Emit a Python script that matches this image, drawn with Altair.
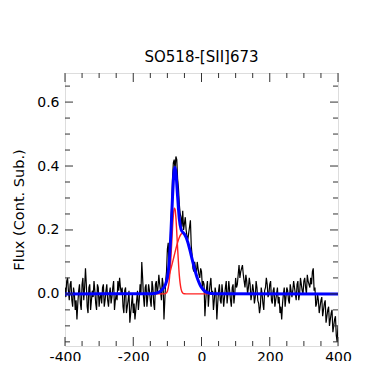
import altair as alt
import pandas as pd

# Observed spectrum (velocity km/s, continuum-subtracted flux), sampled every 2.5 km/s
vel = list(range(-400, 401, 5))
flux = [
    0.02, 0.04, 0.01, 0.03, -0.02, 0.02, -0.05, -0.08, 0.01, -0.03,   # -400..-355
    0.03, -0.02, 0.08, -0.04, 0.02, -0.05, 0.01, 0.04, -0.03, 0.03,   # -350..-305
    -0.04, 0.00, 0.02, -0.04, 0.01, -0.02, 0.00, -0.03, 0.02, -0.05,  # -300..-255
    0.00, 0.04, 0.05, 0.00, -0.04, 0.01, -0.06, -0.02, -0.09, -0.03,  # -250..-205
    -0.06, -0.08, -0.02, -0.05, 0.03, 0.10, -0.01, 0.02, -0.04, 0.03, # -200..-155
    -0.02, 0.04, -0.03, 0.03, 0.00, 0.06, 0.01, 0.05, -0.08, 0.04,    # -150..-105
    0.14, 0.08, 0.22, 0.36, 0.42, 0.43, 0.36, 0.28, 0.24, 0.26,       # -100..-55
    0.22, 0.20, 0.17, 0.21, 0.15, 0.08, 0.10, 0.06, 0.08, 0.05,       # -50..-5
    0.07, 0.04, -0.07, 0.02, -0.04, 0.03, 0.00, -0.05, 0.02, -0.08,   # 0..45
    0.01, -0.02, 0.03, -0.04, 0.02, -0.03, 0.04, -0.02, 0.02, -0.03,  # 50..95
    0.05, 0.03, 0.09, 0.07, 0.09, 0.04, 0.06, 0.00, 0.05, -0.02,      # 100..145
    0.03, -0.03, 0.04, -0.02, -0.06, 0.02, -0.03, 0.01, 0.05, -0.01,  # 150..195
    0.03, -0.02, 0.01, -0.04, 0.00, -0.03, -0.06, -0.08, 0.00, -0.04, # 200..245
    0.02, -0.02, 0.03, -0.01, 0.04, 0.00, 0.03, -0.02, 0.05, 0.01,    # 250..295
    0.04, 0.02, 0.06, 0.03, 0.05, 0.07, 0.01, -0.04, 0.00, -0.06,     # 300..345
    -0.02, -0.07, -0.03, -0.09, -0.05, -0.10, -0.06, -0.12, -0.08, -0.13, # 350..395
    -0.10,                                                            # 400
]
vel_mid = [v + 2.5 for v in vel[:-1]]
flux_mid = [
    -0.01, 0.05, -0.02, 0.04, -0.04, 0.00, -0.02, -0.03, 0.03, -0.05,   # -397.5..-352.5
    0.05, 0.02, 0.03, -0.06, 0.03, -0.02, -0.01, 0.01, -0.05, 0.02,     # -347.5..-302.5
    -0.01, -0.03, 0.03, -0.02, 0.03, -0.04, 0.02, -0.01, 0.04, -0.02,   # -297.5..-252.5
    -0.02, 0.01, 0.02, 0.02, -0.06, 0.02, -0.04, 0.01, -0.06, 0.00,     # -247.5..-202.5
    -0.03, -0.05, 0.01, -0.02, 0.00, 0.05, -0.04, 0.03, -0.01, 0.01,    # -197.5..-152.5
    -0.04, 0.02, -0.05, 0.04, 0.02, 0.03, -0.02, 0.03, -0.02, 0.07,     # -147.5..-102.5
    0.16, 0.12, 0.27, 0.41, 0.39, 0.42, 0.33, 0.25, 0.21, 0.20,         # -97.5..-52.5
    0.24, 0.18, 0.19, 0.23, 0.12, 0.07, 0.08, 0.10, 0.06, 0.08,         # -47.5..-2.5
    0.02, 0.03, -0.02, 0.04, 0.00, 0.05, 0.01, -0.02, 0.00, -0.03,      # 2.5..47.5
    0.03, -0.03, 0.00, -0.01, 0.04, 0.00, 0.01, -0.04, 0.03, 0.00,      # 52.5..97.5
    0.02, 0.06, 0.05, 0.08, 0.06, 0.02, 0.04, 0.02, 0.03, 0.00,         # 102.5..147.5
    0.01, -0.01, 0.02, -0.03, -0.04, 0.00, -0.05, 0.02, 0.03, 0.00,     # 152.5..197.5
    0.04, -0.03, 0.02, -0.02, 0.02, -0.01, -0.04, -0.03, 0.02, -0.01,   # 202.5..247.5
    0.01, -0.03, 0.01, 0.01, 0.02, -0.02, 0.04, 0.00, 0.03, 0.00,       # 252.5..297.5
    0.05, 0.00, 0.04, 0.02, 0.03, 0.08, 0.02, -0.03, -0.02, -0.04,      # 302.5..347.5
    -0.01, -0.05, -0.02, -0.07, -0.04, -0.08, -0.05, -0.10, -0.07, -0.15, # 352.5..397.5
]

# Fitted components
fit_v = [-400, -150, -140, -130, -120, -110, -105, -100, -95, -90, -85, -82.5, -80,
         -77.5, -75, -70, -65, -60, -55, -50, -45, -40, -35, -30, -25, -20, -15,
         -10, -5, 0, 10, 20, 30, 40, 400]
narrow = [0, 0, 0, 0, 0, 0.0001, 0.0014, 0.0086, 0.0365, 0.105, 0.204, 0.245, 0.268,
          0.265, 0.238, 0.143, 0.058, 0.016, 0.003, 0.0004, 0, 0, 0, 0, 0, 0, 0,
          0, 0, 0, 0, 0, 0, 0, 0]
broad = [0, 0.0002, 0.0009, 0.003, 0.0083, 0.0203, 0.0299, 0.0425, 0.0582, 0.0768,
         0.0977, 0.1086, 0.1197, 0.1307, 0.1413, 0.161, 0.1765, 0.1865, 0.19, 0.1865,
         0.1765, 0.161, 0.1413, 0.1197, 0.0977, 0.0768, 0.0582, 0.0425, 0.0299,
         0.0203, 0.0083, 0.003, 0.0009, 0.0002, 0]
total = [0, 0.0002, 0.0009, 0.003, 0.0083, 0.0204, 0.0313, 0.0511, 0.0947, 0.1818,
         0.3017, 0.3536, 0.3877, 0.3957, 0.3793, 0.304, 0.2345, 0.2025, 0.193, 0.1869,
         0.1765, 0.161, 0.1413, 0.1197, 0.0977, 0.0768, 0.0582, 0.0425, 0.0299,
         0.0203, 0.0083, 0.003, 0.0009, 0.0002, 0]

# Axis ticks
x_major = [-400, -200, 0, 200, 400]
x_minor = [-350, -300, -250, -150, -100, -50, 50, 100, 150, 250, 300, 350]
y_major = [0.0, 0.2, 0.4, 0.6]
y_minor = [-0.15, -0.1, -0.05, 0.05, 0.1, 0.15, 0.25, 0.3, 0.35, 0.45, 0.5, 0.55, 0.65]

W, H = 273, 273
FONT = "DejaVu Sans"
xs = alt.Scale(domain=[-400, 400], nice=False, zero=False)
ys = alt.Scale(domain=[-0.163, 0.691], nice=False, zero=False)

spec_df = pd.DataFrame({"v": vel + vel_mid, "f": flux + flux_mid}).sort_values("v")
fit_df = pd.DataFrame({"v": fit_v, "n": narrow, "b": broad, "t": total})

base_x = alt.X("v:Q", scale=xs,
               axis=alt.Axis(values=x_major, ticks=False, domain=False, grid=False,
                             labelExpr="toString(datum.value)", labelFontSize=14,
                             labelFont=FONT, labelColor="#000", labelPadding=4,
                             labelFlush=False, labelOverlap=False, title=None))
base_y = alt.Y("f:Q", scale=ys,
               axis=alt.Axis(values=y_major, ticks=False, domain=False, grid=False,
                             format=".1f", labelFontSize=14, labelFont=FONT,
                             labelColor="#000", labelPadding=6, labelFlush=False,
                             labelOverlap=False,
                             title="Flux (Cont. Sub.)", titleFont=FONT,
                             titleFontSize=14.5, titleFontWeight="normal",
                             titleColor="#000", titlePadding=10))

spectrum = alt.Chart(spec_df).mark_line(color="black", strokeWidth=1.2, clip=True).encode(
    x=base_x, y=base_y)

red1 = alt.Chart(fit_df).mark_line(color="#ff2020", strokeWidth=1.4, interpolate="monotone",
                                   clip=True).encode(
    x=alt.X("v:Q", scale=xs), y=alt.Y("n:Q", scale=ys))
red2 = alt.Chart(fit_df).mark_line(color="#ff2020", strokeWidth=1.4, interpolate="monotone",
                                   clip=True).encode(
    x=alt.X("v:Q", scale=xs), y=alt.Y("b:Q", scale=ys))
blue = alt.Chart(fit_df).mark_line(color="#0000ff", strokeWidth=3, interpolate="monotone",
                                   clip=True).encode(
    x=alt.X("v:Q", scale=xs), y=alt.Y("t:Q", scale=ys))

TC = "#333"
xmaj_df = pd.DataFrame({"v": x_major})
xmin_df = pd.DataFrame({"v": x_minor})
ymaj_df = pd.DataFrame({"f": y_major})
ymin_df = pd.DataFrame({"f": y_minor})

def xticks(df, L):
    bot = alt.Chart(df).mark_rule(color=TC, strokeWidth=1).encode(
        x=alt.X("v:Q", scale=xs), y=alt.value(H), y2=alt.value(H - L))
    top = alt.Chart(df).mark_rule(color=TC, strokeWidth=1).encode(
        x=alt.X("v:Q", scale=xs), y=alt.value(0), y2=alt.value(L))
    return bot + top

def yticks(df, L):
    left = alt.Chart(df).mark_rule(color=TC, strokeWidth=1).encode(
        y=alt.Y("f:Q", scale=ys), x=alt.value(0), x2=alt.value(L))
    right = alt.Chart(df).mark_rule(color=TC, strokeWidth=1).encode(
        y=alt.Y("f:Q", scale=ys), x=alt.value(W), x2=alt.value(W - L))
    return left + right

chart = alt.layer(
    spectrum, red1, red2, blue,
    xticks(xmaj_df, 9), xticks(xmin_df, 5), yticks(ymaj_df, 8), yticks(ymin_df, 5),
).properties(
    width=W, height=H,
    title=alt.TitleParams("SO518-[SII]673", font=FONT, fontSize=15, fontWeight="normal",
                          color="#000", offset=8),
    autosize=alt.AutoSizeParams(type="none"),
    padding={"left": 57, "top": 65, "right": 31, "bottom": 15},
).configure_view(stroke="#333", strokeWidth=1).configure(background="white")

chart.save("out.html", embed_options={"renderer": "svg", "actions": False})
